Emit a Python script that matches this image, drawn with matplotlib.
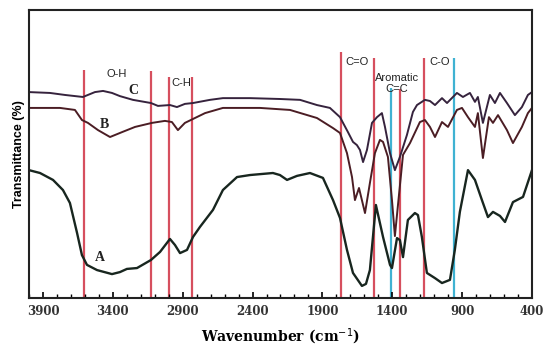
import numpy as np
from matplotlib import pyplot as plt
from matplotlib.ticker import MultipleLocator

# 读数据 (wavenumber / transmittance)
wn_c = [4000, 3850, 3742, 3614, 3528, 3470, 3406, 3349, 3256, 3127, 3077, 2991, 2941, 2884, 2826,
        2705, 2612, 2418, 2204, 2060, 1939, 1846, 1774, 1717, 1681, 1653, 1631, 1609, 1581, 1545,
        1509, 1474, 1452, 1416, 1381, 1345, 1295, 1252, 1223, 1166, 1130, 1094, 1044, 1008, 937,
        894, 844, 808, 787, 751, 701, 665, 629, 579, 522, 472, 429, 400]
t_c = [71.5, 71.2, 70.5, 69.8, 71.5, 71.9, 71.2, 70.1, 68.8, 67.7, 66.7, 67.0, 66.3, 67.4, 67.7,
       68.8, 69.4, 69.4, 69.1, 68.8, 67.0, 66.0, 62.8, 57.6, 54.2, 53.1, 51.4, 47.2, 51.4, 60.8,
       62.8, 64.2, 59.4, 50.3, 44.4, 49.0, 56.6, 64.6, 67.0, 68.8, 68.4, 67.0, 69.4, 67.7, 71.2,
       69.8, 71.2, 68.1, 69.8, 60.8, 70.5, 67.7, 71.2, 67.7, 63.5, 66.3, 70.5, 71.5]

wn_b = [4000, 3778, 3671, 3621, 3578, 3506, 3420, 3334, 3241, 3120, 3027, 2977, 2934, 2884, 2812,
        2740, 2612, 2347, 2132, 1939, 1824, 1774, 1724, 1688, 1667, 1638, 1595, 1560, 1524, 1488,
        1466, 1431, 1402, 1381, 1359, 1323, 1273, 1202, 1166, 1130, 1094, 1044, 1001, 937, 901,
        858, 808, 787, 751, 708, 679, 643, 579, 536, 472, 429, 400]
t_b = [66.0, 66.0, 65.3, 61.8, 60.8, 58.3, 55.9, 57.6, 59.4, 60.8, 61.5, 61.1, 58.3, 60.8, 62.5,
       64.2, 66.0, 66.0, 65.3, 62.5, 59.0, 57.3, 50.3, 42.0, 34.0, 38.2, 29.5, 39.9, 50.3, 54.9,
       54.2, 49.0, 34.0, 21.5, 32.3, 49.7, 53.8, 61.1, 61.8, 59.4, 55.9, 61.1, 59.4, 65.3, 66.0,
       62.8, 59.4, 64.2, 48.6, 62.8, 60.8, 63.5, 58.3, 53.8, 59.4, 64.2, 66.0]

wn_a = [4000, 3921, 3828, 3757, 3707, 3656, 3621, 3585, 3513, 3406, 3349, 3299, 3227, 3127, 3062,
        2991, 2955, 2919, 2869, 2826, 2776, 2683, 2612, 2511, 2418, 2254, 2204, 2153, 2082, 1989,
        1896, 1824, 1774, 1724, 1681, 1617, 1588, 1560, 1517, 1466, 1416, 1402, 1366, 1345, 1323,
        1288, 1238, 1216, 1188, 1152, 1094, 1044, 987, 952, 916, 858, 808, 758, 715, 679, 629,
        593, 536, 464, 400]
t_a = [44.4, 43.4, 41.0, 37.5, 33.0, 22.6, 14.9, 11.5, 9.7, 8.3, 9.0, 10.1, 10.4, 13.2, 16.0,
       20.5, 18.4, 15.6, 16.7, 21.2, 24.7, 30.6, 37.5, 42.0, 42.7, 43.4, 42.7, 41.0, 42.4, 43.4,
       41.7, 34.0, 27.8, 16.7, 8.7, 4.2, 4.9, 9.7, 32.3, 21.2, 11.5, 10.4, 20.8, 20.1, 14.2,
       27.1, 29.5, 28.8, 21.2, 8.7, 6.9, 5.2, 6.3, 16.7, 29.9, 44.4, 41.0, 34.0, 28.1, 29.9, 28.5,
       26.4, 33.3, 35.1, 44.4]

# 特征峰位置
red_pos = [3605, 3125, 3000, 2830, 1770, 1530, 1345, 1175]
red_top = [79.2, 78.8, 76.7, 76.7, 85.4, 83.3, 72.5, 83.3]
cyan_pos = [1410, 960]
cyan_top = [72.9, 83.3]

band_names = ['O-H', 'C-H', 'C=O', 'Aromatic', 'C=C', 'C-O']
band_x = [3370, 2912, 1653, 1366, 1366, 1058]
band_y = [77.8, 74.7, 81.9, 76.4, 72.6, 81.9]

curve_names = ['C', 'B', 'A']
curve_x = [3256, 3463, 3492]
curve_y = [72.2, 60.4, 14.2]

fig = plt.figure(figsize=(5.5, 3.46), dpi=100)
ax = fig.add_axes([0.0527, 0.1387, 0.9145, 0.8324])

ax.vlines(red_pos, 0, red_top, colors='#d64f5e', lw=1.6, zorder=1)
ax.vlines(cyan_pos, 0, cyan_top, colors='#3fb2d2', lw=1.6, zorder=1)

ax.plot(wn_c, t_c, color='#36233d', lw=1.4, zorder=2, solid_joinstyle='round')
ax.plot(wn_b, t_b, color='#4b1d24', lw=1.4, zorder=2, solid_joinstyle='round')
ax.plot(wn_a, t_a, color='#18261f', lw=1.7, zorder=2, solid_joinstyle='round')

for s, x, y in zip(band_names, band_x, band_y):
    ax.text(x, y, s, ha='center', va='center', fontsize=8, family='Liberation Sans', color='#222222')
for s, x, y in zip(curve_names, curve_x, curve_y):
    ax.text(x, y, s, ha='center', va='center', fontsize=10, family='Liberation Serif',
            weight='bold', color='#222222')

ax.set_xlim(4000, 400)
ax.set_ylim(0, 100)
ax.xaxis.set_major_locator(MultipleLocator(500))
ax.xaxis.set_minor_locator(MultipleLocator(100))
ax.set_xticks([3900, 3400, 2900, 2400, 1900, 1400, 900, 400])
ax.set_yticks([])
ax.tick_params(axis='x', which='major', direction='in', length=4, width=1.2, pad=5)
ax.tick_params(axis='x', which='minor', direction='in', length=3, width=1.0)
for lab in ax.get_xticklabels():
    lab.set_family('DejaVu Serif')
    lab.set_weight('bold')
    lab.set_fontsize(8.5)
    lab.set_color('#333333')
for sp in ax.spines.values():
    sp.set_linewidth(1.5)
    sp.set_color('#222222')

ax.set_xlabel('Wavenumber (cm$^{-1}$)', family='DejaVu Serif', weight='bold', fontsize=10, labelpad=6)
ax.set_ylabel('Transmittance (%)', family='Liberation Sans', weight='bold', fontsize=9, labelpad=3)

plt.savefig('out.png', dpi=100)
